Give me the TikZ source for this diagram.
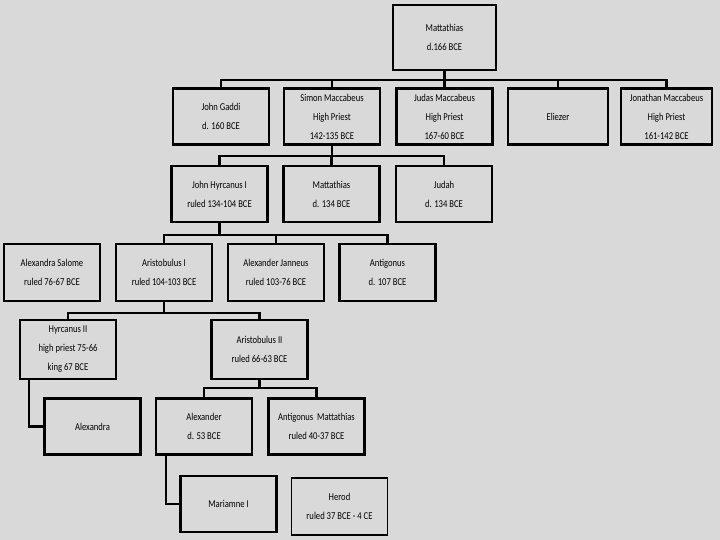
\documentclass[tikz,border=0pt]{standalone}
\usepackage{fontspec}
\newfontfamily\boxfont{Carlito}[FakeStretch=0.82]
\definecolor{slide}{HTML}{D9D9D9}

\begin{document}
\begin{tikzpicture}[x=1pt,y=-1pt]
\tikzstyle{per}=[draw,line width=2.4pt,inner sep=0pt,minimum width=96pt,minimum height=56pt,align=center,font=\boxfont\fontsize{10.5}{19}\selectfont];
\tikzstyle{thin}=[per,line width=1.5pt];
\tikzstyle{link}=[line width=2.4pt];

\fill[slide] (0,0) rectangle (720,540);
\useasboundingbox (0,0) rectangle (720,540);

% first generation
\node[per,minimum width=103pt,minimum height=65pt] (mat) at (444.5,37.5) {Mattathias\\d.166 BCE};

% sons of Mattathias
\node[per] (gaddi) at (221,116.5) {John Gaddi\\d. 160 BCE};
\node[per] (simon) at (332,116.5) {Simon Maccabeus\\High Priest\\142-135 BCE};
\node[per] (judas) at (444.5,116.5) {Judas Maccabeus\\High Priest\\167-60 BCE};
\node[per,minimum width=100pt] (eliezer) at (558,116.5) {Eliezer};
\node[per,minimum width=91pt] (jonathan) at (666.5,116.5) {Jonathan Maccabeus\\High Priest\\161-142 BCE};

% sons of Simon
\node[per] (hyrc) at (219.5,194) {John Hyrcanus I\\ruled 134-104 BCE};
\node[per] (mat2) at (331.5,194) {Mattathias\\d. 134 BCE};
\node[per] (judah) at (444,194) {Judah\\d. 134 BCE};

% sons of John Hyrcanus
\node[per,minimum height=57pt] (salome) at (52,272.5) {Alexandra Salome\\ruled 76-67 BCE};
\node[per,minimum height=57pt] (arist1) at (164,272.5) {Aristobulus I\\ruled 104-103 BCE};
\node[per,minimum height=57pt] (janneus) at (276,272.5) {Alexander Janneus\\ruled 103-76 BCE};
\node[per,minimum height=57pt] (antig) at (387.5,272.5) {Antigonus\\d. 107 BCE};

% sons of Aristobulus I
\node[per,minimum height=59pt] (hyrc2) at (68,349.5) {Hyrcanus II\\high priest 75-66\\king 67 BCE};
\node[per,minimum height=59pt] (arist2) at (259.5,349.5) {Aristobulus II\\ruled 66-63 BCE};

% next generation
\node[per] (alexandra) at (92.5,426.5) {Alexandra};
\node[per] (alexander) at (204,426.5) {Alexander\\d. 53 BCE};
\node[per] (antmat) at (316.5,426.5) {Antigonus~ Mattathias\\ruled 40-37 BCE};
\node[per] (mariamne) at (228.5,504) {Mariamne I};
\node[thin,minimum height=57pt] (herod) at (339.5,506.5) {Herod\\ruled 37 BCE - 4 CE};

% family lines
\coordinate (g1) at (444.5,80);
\draw[link] (mat) -- (g1);
\foreach \k in {gaddi,simon,judas,eliezer,jonathan}
  \draw[link] (\k.north) |- (g1);

\coordinate (g2) at (332,156);
\draw[link] (simon) -- (g2);
\foreach \k in {hyrc,mat2,judah}
  \draw[link] (\k.north) |- (g2);

\coordinate (g3) at (219.5,235);
\draw[link] (hyrc) -- (g3);
\foreach \k in {arist1,janneus,antig}
  \draw[link] (\k.north) |- (g3);

\coordinate (g4) at (164,313);
\draw[link] (arist1) -- (g4);
\foreach \k in {hyrc2,arist2}
  \draw[link] (\k.north) |- (g4);

\coordinate (g5) at (259.5,388);
\draw[link] (arist2) -- (g5);
\foreach \k in {alexander,antmat}
  \draw[link] (\k.north) |- (g5);

\draw[link] ([xshift=-39pt]hyrc2.south) |- (alexandra.west);
\draw[link] ([xshift=-38pt]alexander.south) |- (mariamne.west);
\end{tikzpicture}
\end{document}
